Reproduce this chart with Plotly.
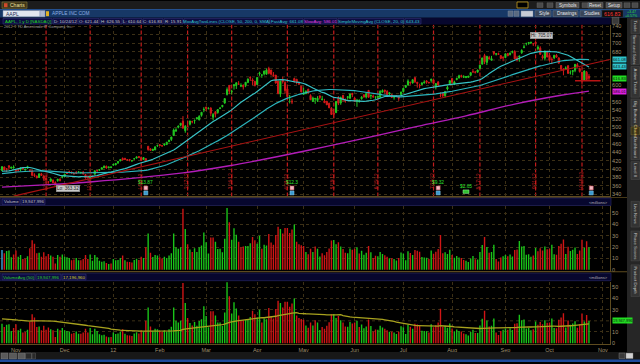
import numpy as np
import pandas as pd
import plotly.graph_objects as go

W, H = 640, 364

# ------------------------------------------------------------------ data
holidays = ["2011-11-24", "2011-12-26", "2012-01-02", "2012-01-16", "2012-02-20",
            "2012-04-06", "2012-05-28", "2012-07-04", "2012-09-03"]

opens = [
    396.5, 405.0, 401.0, 408.0, 402.0, 403.0,
    397.4, 399.0, 399.0, 402.0, 399.0, 402.0, 396.0, 396.0, 386.5, 383.0, 380.0, 389.0, 384.0, 378.0, 370.0, 371.0, 374.0, 368.0, 372.4, 375.8, 381.0,
    382.5, 389.8, 393.5, 392.5, 389.9, 391.5, 392.8, 391.7, 393.0, 387.0, 383.0, 380.4, 382.5, 387.8, 396.7, 397.0, 399.7, 403.1, 406.9, 403.4, 403.5,
    409.4, 410.0, 414.9, 419.8, 425.5, 425.9, 422.6, 423.0, 419.7, 424.2, 426.2, 430.0, 427.5, 422.7, 425.1, 454.4, 448.4, 444.3, 445.7, 455.6,
    458.4, 455.9, 457.3, 458.4, 465.3, 470.5, 480.0, 490.9, 499.5, 504.7, 514.3, 491.5, 503.1, 506.9, 513.1, 515.1, 519.7, 517.1, 527.9, 541.6,
    548.2, 544.2, 545.4, 523.7, 536.8, 534.7, 544.2, 548.9, 557.5, 578.0, 599.6, 584.7, 598.4, 599.5, 602.7, 597.8, 600.0, 599.8, 606.2, 618.4, 612.8, 608.8,
    601.8, 627.3, 624.3, 626.9, 626.1, 639.9, 636.2, 625.0, 624.1, 610.1, 578.9, 613.7, 606.2, 591.3, 570.6, 562.0, 615.9, 614.3, 605.0, 597.8,
    578.1, 580.1, 590.5, 575.5, 561.2, 567.3, 563.4, 574.6, 565.0, 562.6, 561.5, 557.0, 545.3, 533.9, 534.5, 569.6, 557.5, 575.9, 564.6, 570.9, 569.2, 580.7,
    569.2, 561.5, 561.3, 567.8, 577.3, 571.6, 587.7, 574.5, 574.5, 571.2, 571.0, 571.0, 583.4, 588.2, 585.4, 579.0, 577.3, 571.7, 575.0, 571.7, 578.0,
    584.7, 594.9, 600.4, 607.1, 605.3, 617.9, 606.9, 599.9, 601.6, 605.1, 610.4, 606.3, 611.3, 612.7, 596.3, 607.4, 575.0, 580.8, 575.0, 590.9, 603.2,
    615.9, 602.8, 613.6, 617.3, 622.8, 619.4, 617.9, 618.7, 623.4, 631.9, 631.3, 631.0, 640.0, 650.0, 670.8, 654.4, 666.1, 659.5, 680.0, 674.1, 675.3, 670.6, 667.3,
    665.8, 675.6, 673.2, 678.1, 680.5, 665.1, 666.9, 677.4, 690.0, 699.4, 699.9, 700.3, 699.2, 702.4, 686.9, 688.3, 668.7, 664.3, 678.7,
    671.2, 661.8, 664.9, 671.3, 665.2, 646.9, 638.7, 639.7, 646.5, 629.6, 632.4, 635.4, 648.9, 639.6, 631.1, 612.4, 631.0, 621.44,
]
highs = [
    407.0, 406.0, 402.0, 409.0, 405.0, 409.0,
    399.0, 400.0, 403.5, 403.5, 401.0, 408.0, 400.0, 397.0, 390.0, 385.0, 389.5, 391.0, 385.0, 379.0, 371.0, 378.0, 375.0, 371.0, 376.5, 378.0, 382.4,
    389.0, 393.5, 396.4, 394.6, 390.9, 395.5, 394.6, 393.9, 395.4, 388.0, 383.7, 384.1, 384.8, 396.1, 397.3, 399.1, 403.6, 409.1, 408.2, 405.6, 406.3,
    412.5, 414.7, 418.6, 422.8, 427.8, 426.0, 422.9, 423.1, 420.5, 425.5, 429.5, 431.4, 427.8, 428.4, 425.1, 454.5, 448.8, 448.5, 453.9, 458.2,
    458.9, 457.2, 460.0, 465.0, 469.8, 476.8, 496.8, 497.6, 503.8, 509.6, 526.3, 504.9, 507.8, 514.9, 515.5, 517.8, 522.9, 528.5, 535.4, 547.6,
    548.2, 546.8, 547.5, 533.7, 537.8, 543.0, 548.0, 552.0, 568.2, 594.7, 600.0, 589.2, 601.8, 606.0, 609.7, 604.5, 601.8, 607.2, 616.3, 621.5, 616.6, 610.6,
    618.8, 632.2, 625.1, 634.7, 639.8, 644.0, 636.9, 631.3, 624.2, 610.3, 610.0, 620.3, 609.7, 596.0, 576.7, 567.7, 618.0, 614.7, 608.5, 598.4,
    594.0, 587.4, 591.4, 578.5, 572.8, 570.0, 573.9, 575.0, 574.5, 567.6, 562.7, 558.2, 547.5, 543.4, 561.5, 573.9, 572.8, 576.5, 568.4, 574.0, 580.0, 581.5,
    572.7, 567.5, 566.5, 573.9, 577.3, 580.6, 588.5, 576.6, 578.0, 573.5, 574.6, 587.9, 590.0, 589.3, 588.2, 582.2, 578.0, 574.5, 576.7, 573.9, 584.0,
    593.5, 600.0, 614.0, 608.4, 613.9, 619.9, 608.0, 603.6, 607.4, 611.6, 611.5, 608.4, 615.4, 612.9, 605.0, 609.9, 583.1, 580.8, 585.8, 599.4, 611.7,
    616.4, 610.7, 618.0, 624.9, 625.0, 623.9, 621.7, 621.8, 630.0, 638.6, 634.0, 636.8, 648.2, 665.2, 674.9, 669.8, 669.9, 669.9, 680.9, 676.1, 677.7, 671.6, 668.6,
    675.1, 676.4, 678.3, 682.5, 683.3, 670.1, 669.9, 685.5, 697.0, 699.8, 702.3, 704.0, 700.1, 705.07, 695.1, 692.8, 672.7, 682.2, 681.1,
    676.8, 666.4, 671.9, 674.2, 666.0, 647.6, 640.5, 645.0, 647.2, 635.4, 636.0, 650.3, 652.8, 642.1, 631.8, 635.4, 633.9, 626.55,
]
lows = [
    395.0, 397.0, 393.0, 399.0, 401.0, 401.0,
    390.0, 394.0, 395.0, 399.0, 394.0, 401.0, 393.0, 383.0, 381.0, 378.0, 379.0, 384.0, 373.0, 374.0, 365.0, 370.0, 366.9, 363.32, 370.0, 370.5, 378.0,
    380.8, 388.6, 390.3, 389.7, 386.8, 388.4, 391.0, 388.5, 387.1, 377.0, 378.3, 379.2, 380.5, 387.3, 392.0, 396.1, 399.5, 403.0, 401.1, 401.6, 403.5,
    409.0, 409.3, 412.3, 418.6, 421.4, 421.5, 419.3, 418.5, 418.4, 422.9, 425.3, 426.2, 420.0, 422.3, 419.6, 443.7, 443.1, 443.8, 445.4, 453.1,
    455.1, 453.9, 455.6, 458.2, 464.2, 467.1, 479.6, 488.5, 497.1, 502.0, 496.9, 486.6, 500.3, 504.1, 509.1, 508.1, 518.6, 516.3, 525.0, 535.7,
    538.8, 542.5, 526.0, 516.2, 523.3, 532.1, 543.2, 547.0, 555.8, 575.4, 578.6, 578.0, 589.5, 591.0, 601.4, 595.5, 589.6, 595.3, 606.1, 610.3, 600.3, 597.0,
    600.4, 622.4, 617.6, 623.4, 625.3, 626.0, 623.1, 620.0, 603.5, 578.3, 571.9, 603.8, 580.0, 571.7, 556.6, 555.0, 606.0, 602.1, 600.4, 583.0,
    576.5, 578.6, 580.5, 565.0, 560.8, 555.6, 560.0, 566.0, 564.3, 557.9, 552.9, 545.5, 530.0, 522.2, 534.1, 552.6, 553.2, 561.2, 558.3, 565.3, 566.6, 571.5,
    560.5, 548.5, 558.3, 565.5, 570.5, 568.4, 570.6, 566.7, 570.4, 567.3, 569.6, 570.4, 583.1, 579.8, 577.4, 575.4, 570.2, 565.6, 571.7, 562.7, 575.0,
    583.6, 594.0, 599.5, 601.0, 604.0, 605.3, 594.2, 592.5, 600.1, 604.4, 603.4, 603.6, 606.1, 603.7, 590.0, 598.5, 571.3, 571.9, 571.2, 587.6, 603.1,
    603.0, 600.3, 611.6, 616.1, 618.0, 617.1, 617.1, 618.5, 623.3, 630.2, 627.8, 630.6, 638.8, 649.9, 650.3, 648.1, 661.2, 659.3, 671.6, 670.7, 672.6, 662.9, 657.2,
    664.5, 669.2, 670.8, 675.8, 662.6, 656.5, 656.0, 674.8, 687.9, 694.6, 696.4, 699.6, 693.6, 699.4, 682.9, 673.0, 661.2, 658.8, 666.8,
    656.5, 650.3, 662.6, 665.6, 651.3, 636.1, 623.6, 637.0, 628.0, 625.3, 623.6, 631.0, 642.0, 630.0, 602.6, 610.8, 611.7, 610.64,
]
closes = [
    405.77, 397.77, 400.60, 404.69, 404.95, 404.78,
    396.51, 397.41, 403.07, 400.24, 399.73, 406.23, 395.28, 385.22, 384.62, 379.26, 388.83, 384.77, 377.41, 374.94, 369.01, 376.51, 366.99, 363.57, 376.12, 373.20, 382.20,
    387.93, 389.70, 393.01, 390.95, 389.09, 390.66, 393.62, 391.84, 388.81, 380.19, 378.94, 381.02, 382.21, 395.95, 396.45, 398.55, 403.33, 406.53, 402.64, 405.12, 405.00,
    411.23, 413.44, 418.03, 422.40, 421.73, 423.24, 422.55, 421.39, 419.81, 424.70, 429.11, 427.75, 420.30, 427.41, 420.41, 446.66, 444.63, 447.28, 453.01, 456.48,
    456.19, 455.12, 459.68, 463.97, 468.83, 476.68, 493.17, 493.42, 502.60, 509.46, 497.67, 502.21, 502.12, 514.85, 513.04, 516.39, 522.41, 525.76, 535.41, 542.44,
    544.47, 545.18, 533.16, 530.26, 530.69, 541.99, 545.17, 552.00, 568.10, 589.58, 585.56, 585.57, 601.10, 605.96, 602.50, 599.34, 596.05, 606.98, 614.48, 617.62, 609.86, 599.55,
    618.63, 629.32, 624.31, 633.68, 636.23, 628.44, 626.20, 622.77, 605.23, 580.13, 609.70, 608.34, 587.44, 572.98, 571.70, 560.28, 610.00, 607.70, 603.00, 583.98,
    582.13, 585.98, 581.82, 565.25, 569.48, 568.18, 569.18, 570.52, 566.71, 558.22, 553.17, 546.08, 530.12, 530.38, 561.28, 556.97, 570.56, 565.32, 562.29, 572.27, 579.17, 577.73,
    560.99, 564.29, 562.83, 571.46, 571.72, 580.32, 571.17, 576.16, 572.16, 571.53, 574.13, 585.78, 587.41, 585.74, 577.67, 582.10, 570.77, 572.02, 574.50, 569.05, 584.00,
    592.52, 599.41, 609.94, 605.88, 613.11, 608.21, 604.43, 598.90, 604.97, 606.91, 606.94, 606.26, 614.32, 604.30, 603.83, 600.92, 574.97, 574.88, 585.16, 595.03, 610.76,
    606.81, 607.79, 615.70, 622.55, 620.91, 619.86, 620.73, 621.70, 630.00, 631.69, 630.83, 636.34, 648.11, 665.15, 656.06, 668.87, 662.63, 663.22, 675.68, 674.80, 673.47, 663.87, 665.24,
    674.97, 670.23, 676.27, 680.44, 662.74, 660.59, 669.79, 682.98, 691.28, 699.78, 701.91, 702.10, 698.70, 700.09, 690.79, 673.54, 665.18, 681.32, 667.10,
    659.39, 661.31, 671.45, 666.80, 652.59, 638.17, 635.85, 640.91, 628.10, 629.71, 634.76, 649.79, 644.61, 632.64, 609.84, 634.03, 613.36, 616.83,
]
# volumes in millions of shares
volumes = [
    17.5, 14.5, 16.5, 17.0, 11.0, 13.5,
    17.0, 11.5, 13.0, 9.5, 10.0, 12.0, 19.0, 26.0, 23.0, 14.5, 15.0, 11.5, 15.5, 12.0, 14.0, 12.5, 11.5, 5.5, 13.0, 11.5, 13.5,
    11.5, 11.0, 10.5, 8.5, 9.0, 10.5, 8.5, 8.5, 9.5, 13.0, 9.5, 13.5, 8.0, 13.0, 11.0, 8.0, 7.0, 7.5, 6.0, 5.2, 5.6,
    9.6, 8.3, 8.6, 10.3, 12.5, 8.5, 7.0, 6.8, 6.4, 8.6, 9.8, 8.7, 11.5, 10.4, 20.0, 32.0, 15.0, 11.2, 13.0, 12.5,
    11.0, 10.0, 11.5, 10.5, 12.5, 14.6, 32.0, 20.0, 18.5, 20.0, 54.0, 36.0, 22.5, 18.0, 15.8, 19.0, 15.6, 19.8, 21.5, 33.0,
    24.4, 14.3, 28.5, 28.5, 24.8, 18.4, 18.6, 15.4, 27.5, 54.5, 42.0, 26.5, 36.6, 31.0, 24.8, 20.0, 20.5, 21.0, 21.0, 23.4, 29.0, 26.0,
    22.9, 30.0, 18.5, 22.0, 21.5, 31.5, 24.0, 22.0, 30.7, 38.0, 36.0, 32.0, 37.0, 37.0, 32.6, 35.5, 40.0, 24.8, 22.6, 21.6,
    21.0, 15.8, 13.8, 18.5, 15.8, 20.5, 18.5, 11.8, 14.5, 12.9, 15.7, 18.7, 25.8, 26.2, 22.5, 24.4, 20.5, 18.4, 15.0, 14.6, 18.9, 17.6,
    18.6, 20.0, 14.4, 16.8, 13.3, 15.0, 21.1, 15.4, 10.5, 12.3, 12.0, 15.7, 14.0, 12.8, 11.6, 10.2, 10.2, 9.5, 8.2, 10.3, 15.2,
    14.3, 8.3, 16.4, 14.8, 13.0, 17.4, 16.7, 16.0, 11.2, 10.8, 10.6, 9.5, 17.0, 14.2, 16.0, 18.4, 30.8, 14.7, 15.5, 13.9, 17.6,
    13.1, 10.6, 12.2, 10.9, 10.5, 8.6, 7.9, 6.9, 9.9, 12.1, 9.2, 9.0, 15.8, 21.9, 29.0, 20.2, 15.0, 15.6, 22.0, 9.6, 7.2, 10.8, 12.0,
    13.1, 12.0, 13.4, 11.8, 17.4, 17.9, 25.4, 20.5, 21.1, 13.2, 13.6, 11.6, 12.5, 19.3, 16.4, 19.0, 17.0, 20.6, 18.2,
    18.5, 22.2, 13.6, 13.3, 21.0, 22.9, 26.7, 14.0, 20.3, 16.6, 17.6, 19.6, 13.9, 17.0, 26.6, 19.5, 25.3, 19.947996,
]
# closes / volumes of the sessions before the chart (needed by the averages)
prior_closes = [
    373.70, 376.99, 383.41, 380.48, 380.44, 366.05, 356.03, 356.44, 373.60, 376.18, 373.72, 383.58, 389.97, 389.99, 384.83,
    381.03, 374.05, 379.74, 383.93, 384.14, 377.48, 379.94, 384.62, 389.30, 392.96, 400.50, 411.63, 413.45, 412.14, 401.82, 404.30, 403.17, 399.26, 397.01, 390.57, 381.32,
    374.60, 372.50, 378.25, 377.37, 369.80, 388.81, 400.29, 402.19, 408.43, 422.00, 419.99, 422.24, 398.62, 395.31, 392.87,
]
prior_volumes = [
    26, 19, 17, 18, 16, 30, 29, 23, 23, 26, 30, 22, 14, 13, 19,
    12, 16, 18, 12, 14, 20, 16, 15, 17, 15, 24, 29, 23, 21, 34, 19, 25, 22, 15, 23, 19,
    25, 34, 28, 26, 20, 19, 21, 22, 16, 20, 18, 35, 42, 28, 25,
]
# 200-day SMA
slow_ma_dates = ["2011-10-24", "2011-11-21", "2011-12-19", "2012-01-18", "2012-02-15", "2012-03-15",
                 "2012-04-16", "2012-05-14", "2012-06-12", "2012-07-11", "2012-08-09", "2012-09-10",
                 "2012-10-08", "2012-10-24"]
slow_ma_values = [357, 363, 370, 379, 391, 408, 430, 453, 477, 502, 527, 555, 576, 586.01]

expirations = ["2011-11-18", "2011-12-16", "2012-01-20", "2012-02-17", "2012-03-16", "2012-04-20",
               "2012-05-18", "2012-06-15", "2012-07-20", "2012-08-17", "2012-09-21", "2012-10-19"]
earnings_dates = ["2012-01-24", "2012-04-24", "2012-07-24", "2012-10-25"]
earnings_labels = ["$13.87", "$12.3", "$9.32", ""]
dividend_dates = ["2012-08-09"]
dividend_labels = ["$2.65"]

trend_dates = ["2011-10-31", "2012-11-06"]
trend_prices = [335.6, 661.5]
level_dates = ["2012-10-16", "2012-10-31"]
level_price = 610.6

price_ticks = list(range(340, 741, 20))
vol_ticks = [0, 10, 20, 30, 40, 50]

# ------------------------------------------------------------------ derived
dates = [d for d in pd.bdate_range("2011-10-24", "2012-10-24") if d.strftime("%Y-%m-%d") not in holidays]
future = list(pd.bdate_range("2012-10-25", periods=12))
all_days = dates + future
pos = {d.strftime("%Y-%m-%d"): i for i, d in enumerate(all_days)}
N = len(dates)
assert N == len(opens) == len(highs) == len(lows) == len(closes) == len(volumes)
idx = np.arange(N)

call = pd.Series(prior_closes + closes)
ma20 = call.rolling(20).mean().values[len(prior_closes):]
ma50 = call.rolling(50).mean().values[len(prior_closes):]
vall = pd.Series(prior_volumes + volumes, dtype=float)
vavg = vall.rolling(50).mean().values[len(prior_volumes):]
prevc = [prior_closes[-1]] + closes[:-1]
vcol = ["#19c419" if c >= p else "#d01515" for c, p in zip(closes, prevc)]
vcol1 = list(vcol)
vcol1[0] = "#3aa6e0"

tick_idx, tick_txt = [], []
for i, d in enumerate(all_days[:N + 8]):
    if i > 0 and d.month != all_days[i - 1].month:
        tick_idx.append(i)
        tick_txt.append(d.strftime("%y") if d.month == 1 else d.strftime("%b"))

# value bubbles on the right axis (they cover the axis labels beneath them)
price_bubbles = [(ma50[-1], "#2fc4cc"), (ma20[-1], "#2fc4cc"), (closes[-1], "#22dd22"), (slow_ma_values[-1], "#e020e0")]
price_tick_shown = [t for t in price_ticks if all(abs(t - b) >= 13 for b, _ in price_bubbles)]
vol2_tick_shown = [t for t in vol_ticks if abs(t - volumes[-1]) >= 5]

# ------------------------------------------------------------------ figure
def py(p):
    return 1 - p / H

fig = go.Figure()
fig.add_trace(go.Candlestick(
    x=idx, open=opens, high=highs, low=lows, close=closes, xaxis="x", yaxis="y",
    increasing=dict(line=dict(color="#22c822", width=1), fillcolor="#22c822"),
    decreasing=dict(line=dict(color="#d41a1a", width=1), fillcolor="#d41a1a"),
    whiskerwidth=0, hoverinfo="skip"))
fig.add_trace(go.Scatter(x=idx, y=ma50, mode="lines", line=dict(color="#2bb4bc", width=1.2), xaxis="x", yaxis="y", hoverinfo="skip"))
fig.add_trace(go.Scatter(x=idx, y=ma20, mode="lines", line=dict(color="#36c2c6", width=1.2), xaxis="x", yaxis="y", hoverinfo="skip"))
fig.add_trace(go.Scatter(x=[pos[d] for d in slow_ma_dates], y=slow_ma_values, mode="lines",
                         line=dict(color="#b21cb8", width=1.4, shape="spline"), xaxis="x", yaxis="y", hoverinfo="skip"))
fig.add_trace(go.Scatter(x=[pos[d] for d in trend_dates], y=trend_prices, mode="lines",
                         line=dict(color="#a81212", width=1.1), xaxis="x", yaxis="y", hoverinfo="skip"))
fig.add_trace(go.Scatter(x=[pos[d] for d in level_dates], y=[level_price, level_price], mode="lines",
                         line=dict(color="#b81414", width=1.6), xaxis="x", yaxis="y", hoverinfo="skip"))
fig.add_trace(go.Bar(x=idx, y=volumes, marker=dict(color=vcol1, line=dict(width=0)), width=0.6,
                     xaxis="x2", yaxis="y2", hoverinfo="skip"))
fig.add_trace(go.Bar(x=idx, y=volumes, marker=dict(color=vcol, line=dict(width=0)), width=0.6,
                     xaxis="x3", yaxis="y3", hoverinfo="skip"))
fig.add_trace(go.Scatter(x=idx, y=vavg, mode="lines", line=dict(color="#a8a21e", width=1.3),
                         xaxis="x3", yaxis="y3", hoverinfo="skip"))

GRID = "#3c3016"
AX = "#5e4b1f"
TICKF = dict(color="#a29372", size=5.5, family="Liberation Sans")
xdom = [0, 610 / W]
xr = [-0.86, 262.07]
xcommon = dict(domain=xdom, range=xr, tickvals=tick_idx, showgrid=True, gridcolor=GRID, griddash="dot",
               gridwidth=1, zeroline=False, ticks="", showline=True, linecolor=AX, linewidth=1)
ycommon = dict(side="right", showgrid=True, gridcolor=GRID, griddash="dot", gridwidth=1, zeroline=False,
               ticks="", tickfont=TICKF, showline=True, linecolor=AX, linewidth=1)

shapes, ann = [], []

def rect(x0, y0, x1, y1, fill, line=None, lw=0.6, layer="above"):
    shapes.append(dict(type="rect", xref="paper", yref="paper", x0=x0 / W, x1=x1 / W, y0=py(y1), y1=py(y0),
                       fillcolor=fill, line=dict(color=line if line else fill, width=lw if line else 0), layer=layer))

def text(x, y, s, color, size=4.6, xanchor="center", angle=0, family="Liberation Sans", bg=None):
    d = dict(xref="paper", yref="paper", x=x / W, y=py(y), text=s, showarrow=False,
             font=dict(color=color, size=size, family=family), xanchor=xanchor, yanchor="middle",
             textangle=angle, borderpad=0)
    if bg:
        d["bgcolor"] = bg
    ann.append(d)

# price-grid dotted horizontal lines at every label level, also under the bubbles
for t in price_ticks:
    if t not in price_tick_shown:
        shapes.append(dict(type="line", xref="x domain", yref="y", x0=0, x1=1, y0=t, y1=t,
                           line=dict(color=GRID, width=1, dash="dot"), layer="below"))
for t in vol_ticks:
    if t not in vol2_tick_shown:
        shapes.append(dict(type="line", xref="x3 domain", yref="y3", x0=0, x1=1, y0=t, y1=t,
                           line=dict(color=GRID, width=1, dash="dot"), layer="below"))

# expiration lines and rotated labels
for e in expirations:
    shapes.append(dict(type="line", xref="x", yref="y domain", x0=pos[e], x1=pos[e], y0=0, y1=1,
                       line=dict(color="#c41c1c", width=1.2, dash="4px,2px"), layer="below"))
    d = pd.Timestamp(e)
    ann.append(dict(xref="x", yref="paper", x=pos[e], y=py(182), text=f"{d.month}/{d.day}/{d.strftime('%y')}",
                    showarrow=False, textangle=-90, xshift=-1,
                    font=dict(color="#c82222", size=4.8, family="Liberation Sans")))

# earnings / dividend markers
for dte, lab in zip(earnings_dates, earnings_labels):
    x = pos[dte]
    shapes.append(dict(type="rect", xref="x", yref="paper", xsizemode="pixel", xanchor=x, x0=-2, x1=2,
                       y0=py(190.5), y1=py(186.5), fillcolor="#f0b8c0", line=dict(color="#c04050", width=0.5), layer="above"))
    shapes.append(dict(type="rect", xref="x", yref="paper", xsizemode="pixel", xanchor=x, x0=-2, x1=2,
                       y0=py(195.5), y1=py(191.5), fillcolor="#3a9ad0", line=dict(color="#8fd0f0", width=0.5), layer="above"))
    if lab:
        ann.append(dict(xref="x", yref="paper", x=x, y=py(183), text=lab, showarrow=False,
                        font=dict(color="#2ee02e", size=4.8, family="Liberation Sans")))
for dte, lab in zip(dividend_dates, dividend_labels):
    x = pos[dte]
    shapes.append(dict(type="rect", xref="x", yref="paper", xsizemode="pixel", xanchor=x, x0=-3, x1=3,
                       y0=py(194), y1=py(190.5), fillcolor="#30c030", line=dict(color="#a0f0a0", width=0.5), layer="above"))
    ann.append(dict(xref="x", yref="paper", x=x, y=py(187.5), text=lab, showarrow=False,
                    font=dict(color="#2ee02e", size=4.8, family="Liberation Sans")))

# Hi / Lo bubbles
hi_i = int(np.argmax(highs))
lo_i = int(np.argmin(lows))
ann.append(dict(xref="x", yref="y", x=hi_i, y=highs[hi_i], text=f"Hi: {highs[hi_i]:.2f}", showarrow=False,
                yshift=6, xshift=6, bgcolor="#c9c9c9", bordercolor="#909090", borderwidth=0.5, borderpad=0.5,
                font=dict(color="#202020", size=4.6, family="Liberation Sans")))
ann.append(dict(xref="x", yref="y", x=lo_i, y=lows[lo_i], text=f"Lo: {lows[lo_i]:.2f}", showarrow=False,
                xanchor="left", yanchor="top", yshift=-1, xshift=1, bgcolor="#c9c9c9", bordercolor="#909090",
                borderwidth=0.5, borderpad=0.5, font=dict(color="#202020", size=4.6, family="Liberation Sans")))

# right-axis value bubbles
for val, bg in price_bubbles:
    ann.append(dict(xref="paper", yref="y", x=611.5 / W, y=val, text=f"{val:.2f}", showarrow=False, xanchor="left",
                    bgcolor=bg, borderpad=0, font=dict(color="#101010", size=4.2, family="Liberation Sans")))
ann.append(dict(xref="paper", yref="y3", x=611.5 / W, y=volumes[-1], text=f"{volumes[-1]*1e6:,.0f}", showarrow=False,
                xanchor="left", bgcolor="#22dd22", borderpad=0, font=dict(color="#101010", size=3.9, family="Liberation Sans")))

# --- window chrome
rect(0, 0, 640, 8, "#1c1c1c")
rect(2, 1, 27, 7.3, "#3b3418", "#8a7a3a", 0.6)
rect(4, 2.2, 7.5, 6.2, "#d04a2a")
text(17.5, 4.2, "Charts", "#f2e3a0", 5)
rect(517, 1, 528, 7, "#000000", "#c8a020", 0.8)
for x0 in (537, 547, 582, 624, 632):
    rect(x0, 1.8, x0 + 6, 6.6, "#4a4a4a", "#6a6a6a", 0.4)
for (x0, x1, s) in [(556, 579, "Symbols"), (588, 603, "Reset"), (606, 622, "Setup")]:
    rect(x0, 1.5, x1, 7, "#4c4c4c", "#707070", 0.5)
    text((x0 + x1) / 2, 4.3, s, "#e8e8e8", 4.6)

rect(0, 8, 640, 17, "#173866")
rect(0, 8, 640, 9, "#24508e")
rect(3, 9.6, 40, 16, "#e2e6ee", "#7d8eb0", 0.5)
text(5, 12.8, "AAPL", "#1c2c50", 5, xanchor="left")
rect(40, 9.6, 45, 16, "#aeb8cc", "#7d8eb0", 0.5)
rect(46, 10.3, 49, 15.3, "#e0b020")
text(51, 12.8, "APPLE INC COM", "#8cb0e4", 4.8, xanchor="left")
for x0 in (508, 514):
    rect(x0, 10, x0 + 5, 15.5, "#5a6a80", "#8090a8", 0.4)
rect(521, 10, 533, 15.8, "#c8ccd4", "#8090a8", 0.4)
for (x0, x1, s) in [(535, 551, "Style"), (553, 578, "Drawings"), (580, 601, "Studies")]:
    rect(x0, 9.8, x1, 15.8, "#3a4658", "#66768c", 0.5)
    text((x0 + x1) / 2 + 1.5, 12.9, s, "#e8ecf2", 4.7)
rect(602, 9.3, 623, 16.3, "#0d0d0d", "#404040", 0.4)
chg = closes[-1] - closes[-2]
text(612.5, 12.9, f"{closes[-1]:.2f}", "#ff3636", 5.4)
text(631.5, 11.2, f"+{chg:.2f}", "#33dd33", 3.6)
text(631.5, 14.8, f"+{chg / closes[-2] * 100:.2f}%", "#33dd33", 3.6)

# study header row
rect(0, 17, 611, 23.6, "#07072e")
hdr = [(3, 52, "AAPL, 1 y D [NASDAQ]", "#22d422"),
       (53, 77, f"D: {dates[-1].month}/{dates[-1].day}/{dates[-1].strftime('%y')}", "#c8c8c8"),
       (78, 99, f"O: {opens[-1]:.2f}", "#c8c8c8"),
       (100, 122, f"H: {highs[-1]:.2f}", "#c8c8c8"),
       (123, 142, f"L: {lows[-1]:.2f}", "#c8c8c8"),
       (143, 163, f"C: {closes[-1]:.2f}", "#c8c8c8"),
       (164, 183, f"R: {highs[-1] - lows[-1]:.2f}", "#c8c8c8"),
       (184, 269, "MovAvgTwoLines (CLOSE, 50, 200, 0, SMA)", "#33c8cc"),
       (270, 303, f"FastAvg: {ma50[-1]:.2f}", "#33c8cc"),
       (304, 337, f"SlowAvg: {slow_ma_values[-1]:.2f}", "#e040e0"),
       (338, 404, "SimpleMovingAvg (CLOSE, 20, 0)", "#33c8cc"),
       (405, 421, f"{ma20[-1]:.2f}", "#33c8cc")]
for x0, x1, s, c in hdr:
    rect(x0, 17.6, x1, 23.2, "#0c0c42", "#3c3c80", 0.5)
    text((x0 + x1) / 2, 20.5, s, c, 4.4)
rect(612, 16.5, 619, 23, "#3a3a3a", "#808080", 0.4)
text(3, 25.6, "2012 © TD Ameritrade IP Company, Inc.", "#9a9a9a", 3.9, xanchor="left")

# volume headers
rect(0, 197.6, 627, 198.4, AX)
rect(0, 198.6, 611, 206.2, "#07072e", "#2c2c6c", 0.6)
rect(2, 199.6, 20, 205.4, "#0c0c42", "#3c3c80", 0.5)
text(11, 202.6, "Volume", "#c0c0c0", 4.4)
rect(21, 199.6, 45, 205.4, "#0c0c42", "#3c3c80", 0.5)
text(33, 202.6, f"{volumes[-1]*1e6:,.0f}", "#c0c0c0", 4.4)
text(598, 202.8, "&lt;millions&gt;", "#b0b0b0", 4.0)
rect(0, 272.6, 627, 273.4, AX)
rect(0, 274.4, 611, 282.0, "#07072e", "#2c2c6c", 0.6)
rect(2, 275.4, 35, 281.2, "#0c0c42", "#3c3c80", 0.5)
text(18.5, 278.4, "VolumeAvg (50)", "#2ecc2e", 4.4)
rect(36, 275.4, 61, 281.2, "#0c0c42", "#3c3c80", 0.5)
text(48.5, 278.4, f"{volumes[-1]*1e6:,.0f}", "#2ecc2e", 4.4)
rect(62, 275.4, 86, 281.2, "#0c0c42", "#3c3c80", 0.5)
text(74, 278.4, f"{vavg[-1]*1e6:,.0f}", "#d8cc30", 4.4)
text(598, 278.6, "&lt;millions&gt;", "#b0b0b0", 4.0)

# bottom toolbar
rect(0, 354, 640, 364, "#181818")
for x0 in (1, 9.5, 18):
    rect(x0, 355, x0 + 7, 361, "#5a5a5a", "#8a8a8a", 0.4)
rect(25.5, 355, 31.5, 361, "#2a2a2a", "#8a8a8a", 0.4)
rect(32, 355, 35.5, 361, "#2a2a2a", "#6a6a6a", 0.4)
rect(619, 355, 625, 360.5, "#3a3a3a", "#8a8a8a", 0.4)
rect(626, 355, 633, 360.5, "#d0d0d0", "#8a8a8a", 0.4)
rect(0, 361.6, 640, 364, "#1d4a9c")

# right sidebar tabs
rect(627, 17, 640, 354, "#262626")
tabs = [("Trade", 19, 33), ("Time and Sales", 35, 64), ("Active Trader", 66, 97), ("Big Buttons", 99, 126),
        ("Charts", 127, 135), ("Dashboard", 137, 160), ("Level II", 162, 180), ("Live News", 202, 228),
        ("Phase Scores", 232, 262), ("Product Depth", 266, 298)]
for s, y0, y1 in tabs:
    hl = s == "Charts"
    rect(631, y0, 639.5, y1, "#3a3418" if hl else "#333333", "#8a7a3a" if hl else "#555555", 0.4)
    text(635.3, (y0 + y1) / 2, s, "#e8d070" if hl else "#c4c4c4", 4.3, angle=90)

fig.update_layout(
    width=W, height=H, margin=dict(l=0, r=0, t=0, b=0),
    paper_bgcolor="#000000", plot_bgcolor="#000000", showlegend=False,
    bargap=0.3, hovermode=False,
    xaxis=dict(**xcommon, anchor="y", showticklabels=False, rangeslider=dict(visible=False)),
    xaxis2=dict(**xcommon, anchor="y2", matches="x", showticklabels=False),
    xaxis3=dict(**xcommon, anchor="y3", matches="x", showticklabels=True, ticktext=tick_txt, tickfont=TICKF),
    yaxis=dict(**ycommon, domain=[py(197), py(24)], range=[335.0, 744.0], tickvals=price_tick_shown, anchor="x"),
    yaxis2=dict(**ycommon, domain=[py(272), py(207)], range=[-0.88, 56.1], tickvals=vol_ticks, anchor="x2"),
    yaxis3=dict(**ycommon, domain=[py(346), py(283)], range=[-0.89, 55.1], tickvals=vol2_tick_shown, anchor="x3"),
    shapes=shapes, annotations=ann,
)
fig.write_html("out.html", config={"displayModeBar": False, "staticPlot": True})
